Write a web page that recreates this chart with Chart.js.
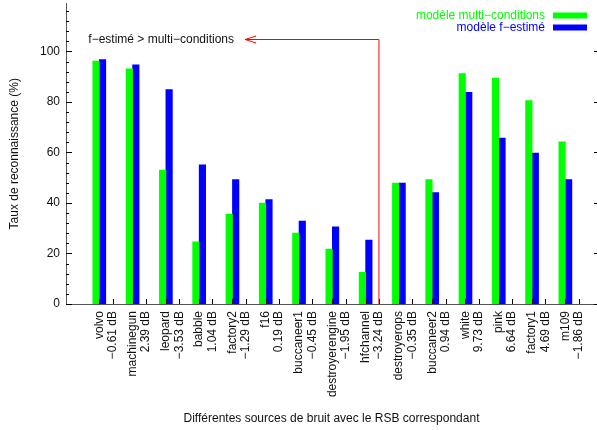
<!DOCTYPE html>
<html>
<head>
<meta charset="utf-8">
<script src="https://cdn.jsdelivr.net/npm/chart.js@4/dist/chart.umd.min.js"></script>
<style>
    body { margin: 0; background: #fff; }
    canvas { display: block; }
</style>
</head>
<body>
<canvas id="chart" width="597" height="430"></canvas>
<script>
const sources = ['volvo', 'machinegun', 'leopard', 'babble', 'factory2', 'f16', 'buccaneer1',
    'destroyerengine', 'hfchannel', 'destroyerops', 'buccaneer2', 'white', 'pink', 'factory1', 'm109'];
const snrLabels = ['−0.61 dB', '2.39 dB', '−3.53 dB', '1.04 dB', '−1.29 dB', '0.19 dB', '−0.45 dB',
    '−1.95 dB', '−3.24 dB', '−0.35 dB', '0.94 dB', '9.73 dB', '6.64 dB', '4.69 dB', '−1.86 dB'];
const multiConditions = [96.2, 93.1, 53.0, 24.6, 35.6, 40.0, 28.1, 21.7, 12.5, 47.9, 49.3, 91.2, 89.5, 80.6, 64.2];
const fEstime = [96.8, 94.7, 84.9, 55.1, 49.3, 41.4, 32.8, 30.6, 25.3, 47.9, 44.1, 83.8, 65.7, 59.8, 49.3];
const seriesNames = ['modèle multi−conditions', 'modèle f−estimé'];
const seriesColors = ['#00ff00', '#0000ff'];
const yTicks = [0, 20, 40, 60, 80, 100];

// annotation: frontier between the two groups of noises
const annotText = 'f−estimé > multi−conditions';
const annotLineX = 8.4;
const annotY = 105;
const annotArrowTipX = 4.38;
const annotTextX = -0.33;

const FONT = "'Liberation Sans', Arial, sans-serif";
const SNR_OFFSET = 0.4;

const toPoints = values => values.map((v, i) => ({ x: i, y: v }));

// scales should not push the plot area around, the frame is fixed
const noPadding = scale => {
    scale.paddingLeft = 0;
    scale.paddingRight = 0;
    scale.paddingTop = 0;
    scale.paddingBottom = 0;
};

const decorations = {
    id: 'decorations',
    afterDatasetsDraw(chart) {
        const ctx = chart.ctx;
        const xs = chart.scales.x;
        const ys = chart.scales.y;
        const area = chart.chartArea;
        ctx.save();

        // inward tick marks (gnuplot style)
        ctx.strokeStyle = '#000';
        ctx.lineWidth = 1;
        ctx.beginPath();
        xs.ticks.forEach(t => {
            const px = Math.round(xs.getPixelForValue(t.value)) + 0.5;
            ctx.moveTo(px, area.bottom);
            ctx.lineTo(px, area.bottom - 5);
        });
        for (let v = 0; v <= 116; v += 4) {
            const py = Math.round(ys.getPixelForValue(v)) + 0.5;
            const len = v % 20 === 0 ? 6 : 3;
            ctx.moveTo(area.left, py);
            ctx.lineTo(area.left + len, py);
        }
        yTicks.forEach(v => {
            const py = Math.round(ys.getPixelForValue(v)) + 0.5;
            ctx.moveTo(area.right, py);
            ctx.lineTo(area.right - 3, py);
        });
        ctx.stroke();

        // red frontier line and arrow
        const lx = xs.getPixelForValue(annotLineX);
        const ly = Math.round(ys.getPixelForValue(annotY)) + 0.5;
        const tipX = xs.getPixelForValue(annotArrowTipX);
        ctx.strokeStyle = '#ff0000';
        ctx.beginPath();
        ctx.moveTo(lx, ys.getPixelForValue(0));
        ctx.lineTo(lx, ly);
        ctx.lineTo(tipX, ly);
        ctx.moveTo(tipX + 11, ly - 3.5);
        ctx.lineTo(tipX, ly);
        ctx.lineTo(tipX + 11, ly + 3.5);
        ctx.stroke();

        ctx.font = '12px ' + FONT;
        ctx.fillStyle = '#111';
        ctx.textAlign = 'left';
        ctx.textBaseline = 'middle';
        ctx.fillText(annotText, xs.getPixelForValue(annotTextX), ly);

        // legend, top right inside the plot
        chart.data.datasets.forEach((ds, i) => {
            const rowY = area.top + 12 + i * 12;
            const boxRight = area.right - 10;
            ctx.fillStyle = ds.backgroundColor;
            ctx.fillRect(boxRight - 34, rowY - 3, 34, 6);
            ctx.textAlign = 'right';
            ctx.fillText(ds.label, boxRight - 42, rowY);
        });
        ctx.restore();
    }
};

const xTickValues = [];
sources.forEach((s, i) => {
    xTickValues.push(i, i + SNR_OFFSET);
});

new Chart(document.getElementById('chart'), {
    type: 'bar',
    data: {
        datasets: [0, 1].map(k => ({
            label: seriesNames[k],
            data: toPoints(k === 0 ? multiConditions : fEstime),
            backgroundColor: seriesColors[k],
            borderWidth: 0,
            barThickness: 6.5
        }))
    },
    options: {
        responsive: false,
        animation: false,
        layout: { padding: { top: 3.5, right: 0, bottom: 0, left: 0 } },
        plugins: {
            legend: { display: false },
            tooltip: { enabled: false }
        },
        scales: {
            x: {
                type: 'linear',
                offset: false,
                min: -1,
                max: 14.95,
                grid: { display: false, drawTicks: false, offset: false },
                border: { display: true, color: '#555', width: 1 },
                afterBuildTicks: scale => {
                    scale.ticks = xTickValues.map(v => ({ value: v }));
                },
                afterFit: scale => {
                    scale.height = 126;
                    noPadding(scale);
                },
                ticks: {
                    autoSkip: false,
                    minRotation: 90,
                    maxRotation: 90,
                    padding: 7,
                    color: '#111',
                    font: { family: FONT, size: 12, lineHeight: 1.6 },
                    callback: (value, index) => index % 2 === 0
                        ? sources[index / 2]
                        : snrLabels[(index - 1) / 2]
                },
                title: {
                    display: true,
                    text: 'Différentes sources de bruit avec le RSB correspondant',
                    color: '#111',
                    font: { family: FONT, size: 12 },
                    padding: { top: 0, bottom: 4 }
                }
            },
            y: {
                min: 0,
                max: 119,
                grid: { display: false, drawTicks: false },
                border: { display: true, color: '#555', width: 1 },
                afterFit: scale => {
                    scale.width = 66;
                    noPadding(scale);
                },
                ticks: {
                    stepSize: 20,
                    includeBounds: false,
                    padding: 6,
                    color: '#111',
                    font: { family: FONT, size: 12 }
                },
                title: {
                    display: true,
                    text: 'Taux de reconnaissance (%)',
                    color: '#111',
                    font: { family: FONT, size: 12 },
                    padding: { top: 7, bottom: 0 }
                }
            }
        }
    },
    plugins: [decorations]
});
</script>
</body>
</html>
